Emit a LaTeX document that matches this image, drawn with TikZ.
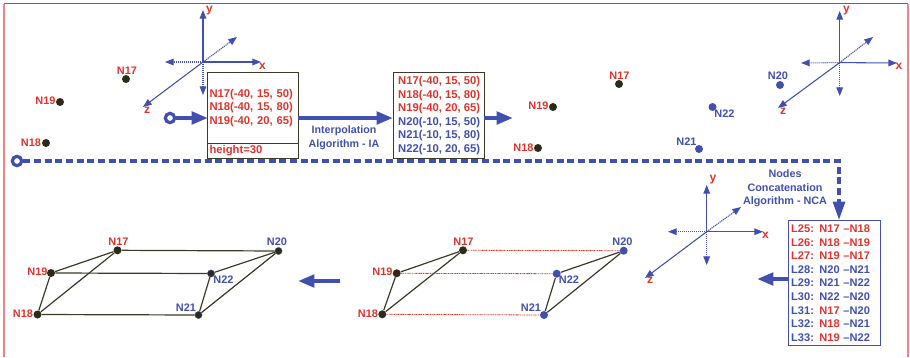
\documentclass[tikz,border=0pt]{standalone}
\usepackage{fontspec}
\setmainfont{Liberation Sans}
\usetikzlibrary{arrows.meta}
\definecolor{dred}{HTML}{E2332B}
\definecolor{dblue}{HTML}{4150AE}
\definecolor{dblack}{HTML}{2B2B17}
\definecolor{dedge}{HTML}{3A3A28}
\newcommand{\rr}[1]{\textcolor{dred}{#1}}
\newcommand{\bb}[1]{\textcolor{dblue}{#1}}
\newcommand{\axesat}[8]{%
  % #1 prefix, #2 centre, #3 y top, #4 y bottom, #5 x right, #6 x left, #7 z, #8 back
  \coordinate (#1o) at #2;
  \coordinate (#1yt) at #3;
  \coordinate (#1yb) at #4;
  \coordinate (#1xr) at #5;
  \coordinate (#1xl) at #6;
  \coordinate (#1zf) at #7;
  \coordinate (#1zb) at #8;
  \draw[axsolid] (#1o) -- (#1yt);
  \draw[axsolid] (#1o) -- (#1xr);
  \draw[axsolid] (#1o) -- (#1zf);
  \draw[axdot] (#1o) -- (#1yb);
  \draw[axdot] (#1o) -- (#1xl);
  \draw[axdot] (#1o) -- (#1zb);
}
\tikzset{
  x=.75pt,y=-.75pt,
  every node/.style={font=\bfseries\fontsize{8.2}{10.2}\selectfont,inner sep=0pt},
  axsolid/.style={draw=dblue,line width=.8pt,-{Triangle[length=6.5pt,width=5pt]}},
  axdot/.style={draw=dblue,line width=.8pt,dash pattern=on .9pt off .6pt,-{Triangle[length=6.5pt,width=5pt]}},
  axlab/.style={text=dred,font=\bfseries\fontsize{9}{10}\selectfont},
  redlab/.style={text=dred},
  bluelab/.style={text=dblue},
  ndot/.style={circle,minimum size=6pt,fill=dblack},
  bdot/.style={circle,minimum size=6pt,fill=dblue},
  kdot/.style={circle,minimum size=5.4pt,fill=dblack,draw=dblue,line width=.3pt},
  edge/.style={draw=dedge,line width=.9pt},
  link/.style={draw=dred,line width=.6pt,dash pattern=on 1.2pt off .5pt on .5pt off .5pt},
  bigarrow/.style={draw=dblue,line width=2.4pt,-{Triangle[length=12pt,width=9.5pt]},shorten >=-.5pt},
  ring/.style={circle,draw=dblue,line width=2.4pt,fill=white,minimum size=7pt},
  dashflow/.style={draw=dblue,line width=2.4pt,dash pattern=on 5.4pt off 2.6pt},
  boxk/.style={draw=dedge,line width=.8pt,fill=white,anchor=north west,font=\bfseries\fontsize{8.45}{10.2}\selectfont},
  boxb/.style={draw=dblue,line width=.8pt,fill=white,anchor=north west,font=\bfseries\fontsize{8.3}{10.2}\selectfont},
  frameA/.style={draw=dred,line width=.8pt},
  frameB/.style={draw=dred!60,line width=1.2pt},
}
\begin{document}
\begin{tikzpicture}
\useasboundingbox (0,0) rectangle (910,357);
% frame
\coordinate (fa) at (4,357);
\coordinate (fb) at (4,3.5);
\coordinate (fc) at (908,3.5);
\coordinate (fd) at (908,357);
\draw[frameB] (fa) -- (fb);
\draw[frameB] (fc) -- (fd);
\draw[frameA] (fb) -- (fc);
% axes
\axesat{a}{(203,62)}{(203,10)}{(203,95)}{(261,62)}{(165,62)}{(143,107)}{(237,37)}
\axesat{b}{(839.7,62.6)}{(839.7,11)}{(839.7,96)}{(897,63)}{(801,63)}{(778,108)}{(873,37)}
\axesat{c}{(706.7,231.7)}{(706.7,185)}{(706.7,265)}{(763,231.7)}{(668,231.7)}{(645,278)}{(741,207)}
\node[axlab] (ay) at (209.5,11) {y};
\node[axlab] (ax) at (262.5,66) {x};
\node[axlab] (az) at (147,110) {z};
\node[axlab] (by) at (846.5,11) {y};
\node[axlab] (bx) at (899,66) {x};
\node[axlab] (bz) at (783,111) {z};
\node[axlab] (cy) at (713,180) {y};
\node[axlab] (cx) at (765.5,235.5) {x};
\node[axlab] (cz) at (650,280) {z};
% boxes
\node[boxk,minimum width=68.5pt,minimum height=53.25pt,text width=65.5pt,align=left] (bxA) at (207,72)
  {\rr{N17(-40, 15, 50)}\\\rr{N18(-40, 15, 80)}\\\rr{N19(-40, 20, 65)}};
\node[boxk,minimum width=68.5pt,minimum height=11.25pt,text width=65.5pt,align=left] (bxH) at (207,143)
  {\rr{height=30}};
\node[boxk,minimum width=68.5pt,minimum height=64.5pt,align=center] (bxB) at (393,72)
  {\rr{N17(-40, 15, 50)}\\\rr{N18(-40, 15, 80)}\\\rr{N19(-40, 20, 65)}\\\bb{N20(-10, 15, 50)}\\\bb{N21(-10, 15, 80)}\\\bb{N22(-10, 20, 65)}};
\node[boxb,minimum width=69pt,minimum height=93.75pt,text width=65pt,align=left] (bxC) at (788,220)
  {\rr{L25: N17 --N18}\\\rr{L26: N18 --N19}\\\rr{L27: N19 --N17}\\\bb{L28: N20 --N21}\\\bb{L29: N21 --N22}\\\bb{L30: N22 --N20}\\\bb{L31:} \rr{N17} \bb{--N20}\\\bb{L32:} \rr{N18} \bb{--N21}\\\bb{L33:} \rr{N19} \bb{--N22}};
% flow
\node[ring] (r1) at (170,118) {};
\node[ring] (r2) at (17,161) {};
\coordinate (a1) at (207,118);
\coordinate (a2) at (298,118);
\coordinate (a3) at (392,118);
\coordinate (a4) at (484,118);
\coordinate (a5) at (512,118);
\draw[bigarrow] (r1) -- (a1);
\draw[bigarrow] (a2) -- (a3);
\draw[bigarrow] (a4) -- (a5);
\coordinate (d1) at (839,161);
\coordinate (d2) at (839,202);
\coordinate (d3) at (839,219.5);
\draw[dashflow] (r2) -- (d1) -- (d2);
\draw[draw=none,fill=dblue] (d3) -- ++(-6.5,-18) -- ++(13,0) -- cycle;
\coordinate (c1) at (788,279);
\coordinate (c2) at (758,279);
\draw[bigarrow] (c1) -- (c2);
\coordinate (e1) at (340,281);
\coordinate (e2) at (299,281);
\draw[bigarrow] (e1) -- (e2);
\node[bluelab,align=center,font=\bfseries\fontsize{8}{10.2}\selectfont] (ia) at (344,138) {Interpolation\\Algorithm - IA};
\node[bluelab,align=center,font=\bfseries\fontsize{8.1}{10.2}\selectfont] (nca) at (785,188.5) {Nodes\\Concatenation\\Algorithm - NCA};
% top-left nodes
\node[ndot] (p17) at (126,79) {};
\node[ndot] (p19) at (60,102) {};
\node[ndot] (p18) at (46,143) {};
\node[redlab] (pl17) at (127,71) {N17};
\node[redlab] (pl19) at (45.5,101) {N19};
\node[redlab] (pl18) at (31,143) {N18};
% top-middle nodes
\node[ndot] (q17) at (619,84) {};
\node[ndot] (q19) at (553,107) {};
\node[ndot] (q18) at (538,148) {};
\node[bdot] (q20) at (780,85) {};
\node[bdot] (q22) at (712.5,107) {};
\node[bdot] (q21) at (699,149) {};
\node[redlab] (ql17) at (619.5,76) {N17};
\node[redlab] (ql19) at (538.5,106) {N19};
\node[redlab] (ql18) at (523.5,148) {N18};
\node[bluelab] (ql20) at (778,76) {N20};
\node[bluelab] (ql22) at (724.5,114) {N22};
\node[bluelab] (ql21) at (686.5,142) {N21};
% bottom-middle
\node[ndot] (m17) at (463,250.3) {};
\node[ndot] (m19) at (396.7,273.3) {};
\node[ndot] (m18) at (382.3,314.3) {};
\node[bdot] (m20) at (623.7,250.7) {};
\node[bdot] (m22) at (556.7,273.7) {};
\node[bdot] (m21) at (544,315) {};
\draw[edge] (m17) -- (m19);
\draw[edge] (m19) -- (m18);
\draw[edge] (m18) -- (m17);
\draw[edge] (m20) -- (m22);
\draw[edge] (m22) -- (m21);
\draw[edge] (m21) -- (m20);
\draw[link] (m17) -- (m20);
\draw[link] (m19) -- (m22);
\draw[link] (m18) -- (m21);
\node[redlab] (ml17) at (463.5,242) {N17};
\node[redlab] (ml19) at (382.5,272) {N19};
\node[redlab] (ml18) at (368,314) {N18};
\node[bluelab] (ml20) at (622.5,242) {N20};
\node[bluelab] (ml22) at (569,280) {N22};
\node[bluelab] (ml21) at (531,308) {N21};
% bottom-left
\node[ndot] (k17) at (117.5,250.3) {};
\node[ndot] (k19) at (51,273) {};
\node[ndot] (k18) at (37.5,314.5) {};
\node[kdot] (k20) at (278.5,251) {};
\node[kdot] (k22) at (211,273.5) {};
\node[kdot] (k21) at (198.5,315) {};
\draw[edge] (k17) -- (k19);
\draw[edge] (k19) -- (k18);
\draw[edge] (k18) -- (k17);
\draw[edge] (k20) -- (k22);
\draw[edge] (k22) -- (k21);
\draw[edge] (k21) -- (k20);
\draw[edge] (k17) -- (k20);
\draw[edge] (k19) -- (k22);
\draw[edge] (k18) -- (k21);
\node[redlab] (kl17) at (118.5,242) {N17};
\node[redlab] (kl19) at (37.5,272) {N19};
\node[redlab] (kl18) at (23,314) {N18};
\node[bluelab] (kl20) at (277,242) {N20};
\node[bluelab] (kl22) at (223.5,280) {N22};
\node[bluelab] (kl21) at (186,308) {N21};
\end{tikzpicture}
\end{document}
